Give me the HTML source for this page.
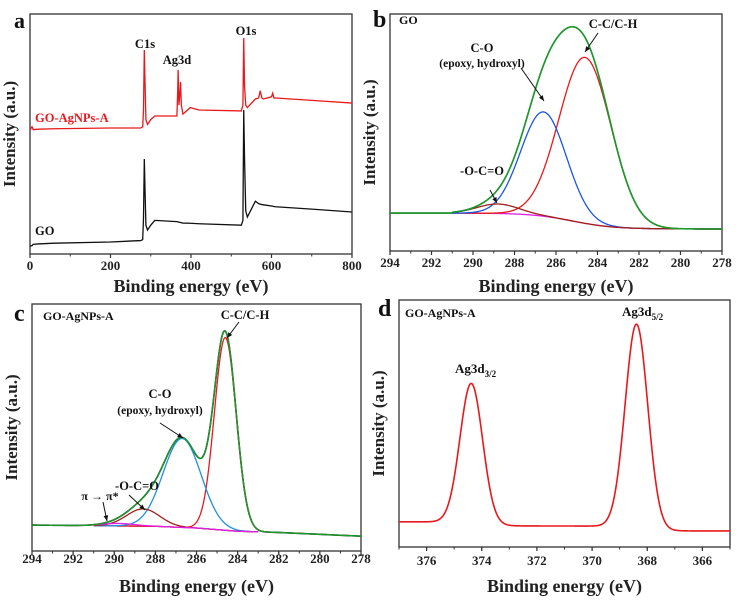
<!DOCTYPE html>
<html><head><meta charset="utf-8">
<style>
html,body{margin:0;padding:0;background:#fff;}
svg{display:block;font-family:"Liberation Serif",serif;font-weight:bold;}
</style></head>
<body>
<svg id="fig" width="740" height="600" viewBox="0 0 740 600" xmlns="http://www.w3.org/2000/svg"></svg>
<script>
// ---- Panel a: survey spectra (energy eV, intensity 0-100) ----
const surveyEnergy = [0,5,8,20,60,200,275,280,282,284,286,288,292,300,310,365,367,368,370,372,374,376,380,398,420,525,529,531,533,536,540,560,568,572,576,580,600,603,606,610,700,800];
const goValues     = [3.3,3.5,4,4.2,4.5,5,5.6,6,15,39.6,25,12,10,12,14,13.5,13.4,13.4,13.3,13.2,13.1,13,12.9,12.8,12.6,12,14,60,40,18,15.4,22,21,20.8,20.6,20.5,20,19.9,19.8,19.7,18.7,17.5];
const agValues     = [51.7,53,51.8,52,52.2,52.5,52.5,53,60,85,70,56,54,56,57.5,57.5,68,76.7,62,66,71.7,62,58.3,61,60,59.6,62,90,70,62,61,64.6,65,68,65,64.6,65.5,67,65,65,64,62.9];
const surveyTicks = [0,200,400,600,800];
// ---- Panel b: GO C1s fit ----
const bCenters = [284.6,286.6,288.8];
const bAmps    = [70,44,4];
const bSigmas  = [1.25,1.1,1.0];
const bBgHigh = 16, bBgLow = 9.3, bBgMid = 285.2;
// ---- Panel c: GO-AgNPs-A C1s fit ----
const cCenters = [284.6,286.7,288.6,289.8];
const cAmps    = [78,36,7,1];
const cSigmas  = [0.53,0.92,0.8,0.8];
const cBgEnergy = [294,288,286,284,282,278];
const cBgValues = [10.5,10,9.3,8,7.5,6];
// ---- Panel d: Ag3d ----
const dCenters = [374.38,368.39];
const dAmps    = [56.5,82.5];
const dSigmas  = [0.41,0.41];
const dBgLevels = [10.2,8.5,6.5];
const dBgSteps  = [374.0,368.2];
const c1sTicks = [294,292,290,288,286,284,282,280,278];
const agTicks  = [376,374,372,370,368,366];

const NS="http://www.w3.org/2000/svg";
const svg=document.getElementById('fig');
function el(tag,attrs,parent){const e=document.createElementNS(NS,tag);for(const k in attrs)e.setAttribute(k,attrs[k]);(parent||svg).appendChild(e);return e;}
function txt(s,x,y,opts,name){const t=el('text',Object.assign({x:x,y:y,'font-size':13},opts||{}));t.textContent=s;


return t;}
function makeAxes(p){
  p.X=e=>p.x0+(e-p.emin)/(p.emax-p.emin)*(p.x1-p.x0);
  p.Y=v=>p.yb-v/100*(p.yb-p.yt);
  return p;}
function gauss(e,c,a,s){return a*Math.exp(-((e-c)*(e-c))/(2*s*s));}
function lin(e,xs,ys){for(let i=0;i<xs.length-1;i++){const a=xs[i],b=xs[i+1];if((e-a)*(e-b)<=0){const t=(e-a)/(b-a);return ys[i]+t*(ys[i+1]-ys[i]);}}return ys[ys.length-1];}
function pathFrom(p,es,fn){let d='';es.forEach((e,i)=>{d+=(i?'L':'M')+p.X(e).toFixed(2)+','+p.Y(fn(e)).toFixed(2);});return d;}
function grid(a,b,n){const r=[];for(let i=0;i<=n;i++)r.push(a+(b-a)*i/n);return r;}
function drawFrame(p,ticks,minorStep,name,titleY,tickY){
  const g=el('g',{});
  
  
  const r=el('rect',{x:p.x0,y:p.yt,width:p.x1-p.x0,height:p.yb-p.yt,fill:'none',stroke:'#333',"stroke-width":1.3},g);
  
  
  ticks.forEach(t=>{
    const ln=el('line',{x1:p.X(t),x2:p.X(t),y1:p.yb,y2:p.yb+4,stroke:'#333','stroke-width':1.2},g);
    
    
    txt(String(t),p.X(t),tickY,{'text-anchor':'middle','font-size':13,fill:'#222'},name+'-x-tick-label');
  });
  const lo=Math.min(p.emin,p.emax),hi=Math.max(p.emin,p.emax);
  for(let v=Math.ceil(lo/minorStep)*minorStep;v<=hi+1e-9;v+=minorStep){
    const m=el('line',{x1:p.X(v),x2:p.X(v),y1:p.yb,y2:p.yb+2.5,stroke:'#333','stroke-width':1},g);
    
    
  }
  txt('Binding energy (eV)',(p.x0+p.x1)/2,titleY,{'text-anchor':'middle','font-size':18,fill:'#222'},name+'-x-axis-title');
  const cx=p.x0-15,cy=(p.yt+p.yb)/2;
  txt('Intensity (a.u.)',cx,cy,{'text-anchor':'middle','font-size':17,fill:'#222',transform:'rotate(-90 '+cx+' '+cy+')'},name+'-y-axis-title');
}
function curve(p,es,fn,color,w,name){const c=el('path',{d:pathFrom(p,es,fn),fill:'none',stroke:color,'stroke-width':w,'stroke-linejoin':'round'});


return c;}
function arrow(x1,y1,x2,y2,name){
  const l=el('line',{x1:x1,y1:y1,x2:x2,y2:y2,stroke:'#111','stroke-width':1});
  
  
  const ang=Math.atan2(y2-y1,x2-x1),s=6;
  const pts=[[x2,y2],[x2-s*Math.cos(ang-0.4),y2-s*Math.sin(ang-0.4)],[x2-s*Math.cos(ang+0.4),y2-s*Math.sin(ang+0.4)]];
  const h=el('polygon',{points:pts.map(q=>q.join(',')).join(' '),fill:'#111'});
  
  
}

// ---------- Panel a ----------
const pa=makeAxes({x0:30,x1:352,yt:14,yb:254,emin:0,emax:800});
drawFrame(pa,surveyTicks,100,'panel-a',292,270);
function seriesPath(p,xs,ys){let d='';xs.forEach((e,i)=>{d+=(i?'L':'M')+p.X(e).toFixed(2)+','+p.Y(ys[i]).toFixed(2);});return d;}
let s1=el('path',{d:seriesPath(pa,surveyEnergy,goValues),fill:'none',stroke:'#111','stroke-width':1.3});


let s2=el('path',{d:seriesPath(pa,surveyEnergy,agValues),fill:'none',stroke:'#e8191c','stroke-width':1.3});


txt('a',14,28,{'font-size':22,fill:'#111'},'panel-a-letter');
txt('C1s',145,48,{'text-anchor':'middle','font-size':12.5,fill:'#111'},'c1s-label');
txt('Ag3d',177,64,{'text-anchor':'middle','font-size':12.5,fill:'#111'},'ag3d-label');
txt('O1s',246,35,{'text-anchor':'middle','font-size':12.5,fill:'#111'},'o1s-label');
txt('GO-AgNPs-A',35,122,{'font-size':12.5,fill:'#e8191c'},'go-agnps-series-label');
txt('GO',35,235,{'font-size':12.5,fill:'#111'},'go-series-label');

// ---------- Panel b ----------
const pb=makeAxes({x0:390,x1:722,yt:14,yb:251,emin:294,emax:278});
drawFrame(pb,c1sTicks,1,'panel-b',292,267);
const bBg=e=>bBgLow+(bBgHigh-bBgLow)/(1+Math.exp(-(e-bBgMid)/1.0));
const bSum=e=>bBg(e)+bCenters.reduce((s,c,i)=>s+gauss(e,c,bAmps[i],bSigmas[i]),0);
const eb=grid(291,278,400), ebf=grid(294,278,500);
curve(pb,ebf,e=>e>291?16:bSum(e),'#111',1.3,'panel-b-measured-line');
curve(pb,eb,bBg,'#e020e0',1.3,'panel-b-background-line');
const bCols=['#e8191c','#1a56e8','#a0201a'];
const bNames=['panel-b-cc-peak','panel-b-co-peak','panel-b-ococ-peak'];
bCenters.forEach((c,i)=>curve(pb,eb,e=>bBg(e)+gauss(e,c,bAmps[i],bSigmas[i]),bCols[i],1.3,bNames[i]));
curve(pb,ebf,e=>e>291?16:bSum(e),'#1a9a2a',1.6,'panel-b-fit-envelope');
txt('b',373,27,{'font-size':24,fill:'#111'},'panel-b-letter');
txt('GO',399,24,{'font-size':12,fill:'#111'},'panel-b-sample-label');
txt('C-C/C-H',613,28,{'text-anchor':'middle','font-size':12.5,fill:'#111'},'panel-b-cc-label');
txt('C-O',482,52,{'text-anchor':'middle','font-size':12.5,fill:'#111'},'panel-b-co-label');
txt('(epoxy, hydroxyl)',482,67,{'text-anchor':'middle','font-size':11.5,fill:'#111'},'panel-b-co-sublabel');
txt('-O-C=O',482,175,{'text-anchor':'middle','font-size':12.5,fill:'#111'},'panel-b-ococ-label');
arrow(598,33,585,52,'panel-b-cc-arrow');
arrow(521,68,544,101,'panel-b-co-arrow');
arrow(490,190,497,203,'panel-b-ococ-arrow');

// ---------- Panel c ----------
const pc=makeAxes({x0:32,x1:361,yt:304,yb:551,emin:294,emax:278});
drawFrame(pc,c1sTicks,1,'panel-c',592,563);
const cBg=e=>lin(e,cBgEnergy,cBgValues);
const cSum=e=>cBg(e)+cCenters.reduce((s,c,i)=>s+gauss(e,c,cAmps[i],cSigmas[i]),0);
const ec=grid(291,283,400), ecf=grid(294,278,600);
curve(pc,ecf,cSum,'#111',1.6,'panel-c-measured-line');
curve(pc,ec,cBg,'#b020b0',1.3,'panel-c-background-line');
const cCols=['#e8191c','#1e90e0','#a0201a','#e020e0'];
const cNames=['panel-c-cc-peak','panel-c-co-peak','panel-c-ococ-peak','panel-c-pi-peak'];
cCenters.forEach((c,i)=>curve(pc,ec,e=>cBg(e)+gauss(e,c,cAmps[i],cSigmas[i]),cCols[i],1.3,cNames[i]));
curve(pc,ecf,cSum,'#1a9a2a',1.4,'panel-c-fit-envelope');
txt('c',14,321,{'font-size':24,fill:'#111'},'panel-c-letter');
txt('GO-AgNPs-A',43,320,{'font-size':12,fill:'#111'},'panel-c-sample-label');
txt('C-C/C-H',245,319,{'text-anchor':'middle','font-size':12.5,fill:'#111'},'panel-c-cc-label');
txt('C-O',160,398,{'text-anchor':'middle','font-size':12.5,fill:'#111'},'panel-c-co-label');
txt('(epoxy, hydroxyl)',160,414,{'text-anchor':'middle','font-size':11.5,fill:'#111'},'panel-c-co-sublabel');
txt('-O-C=O',137,490,{'text-anchor':'middle','font-size':12.5,fill:'#111'},'panel-c-ococ-label');
txt('π → π*',100,500,{'text-anchor':'middle','font-size':12,fill:'#111'},'panel-c-pi-label');
arrow(239,322,227,338,'panel-c-cc-arrow');
arrow(160,423,183,438,'panel-c-co-arrow');
arrow(129,495,145,510,'panel-c-ococ-arrow');
arrow(103,502,107,521,'panel-c-pi-arrow');

// ---------- Panel d ----------
const pd=makeAxes({x0:399,x1:730,yt:300,yb:547,emin:377,emax:365});
drawFrame(pd,agTicks,1,'panel-d',592,565);
const dBg=e=>dBgLevels[2]+(dBgLevels[1]-dBgLevels[2])/(1+Math.exp(-(e-dBgSteps[1])/0.4))+(dBgLevels[0]-dBgLevels[1])/(1+Math.exp(-(e-dBgSteps[0])/0.4));
const dSum=e=>dBg(e)+dCenters.reduce((s,c,i)=>s+gauss(e,c,dAmps[i],dSigmas[i]),0);
curve(pd,grid(377,365,600),dSum,'#e8191c',1.6,'panel-d-ag3d-line');
txt('d',378,316,{'font-size':24,fill:'#111'},'panel-d-letter');
txt('GO-AgNPs-A',405,317,{'font-size':12,fill:'#111'},'panel-d-sample-label');
let t1=txt('Ag3d',622,316,{'font-size':13,fill:'#111'},'ag3d52-label');
let sb1=el('tspan',{'font-size':9,dy:4},t1);sb1.textContent='5/2';
let t2=txt('Ag3d',455,373,{'font-size':13,fill:'#111'},'ag3d32-label');
let sb2=el('tspan',{'font-size':9,dy:4},t2);sb2.textContent='3/2';
</script>
</body></html>
